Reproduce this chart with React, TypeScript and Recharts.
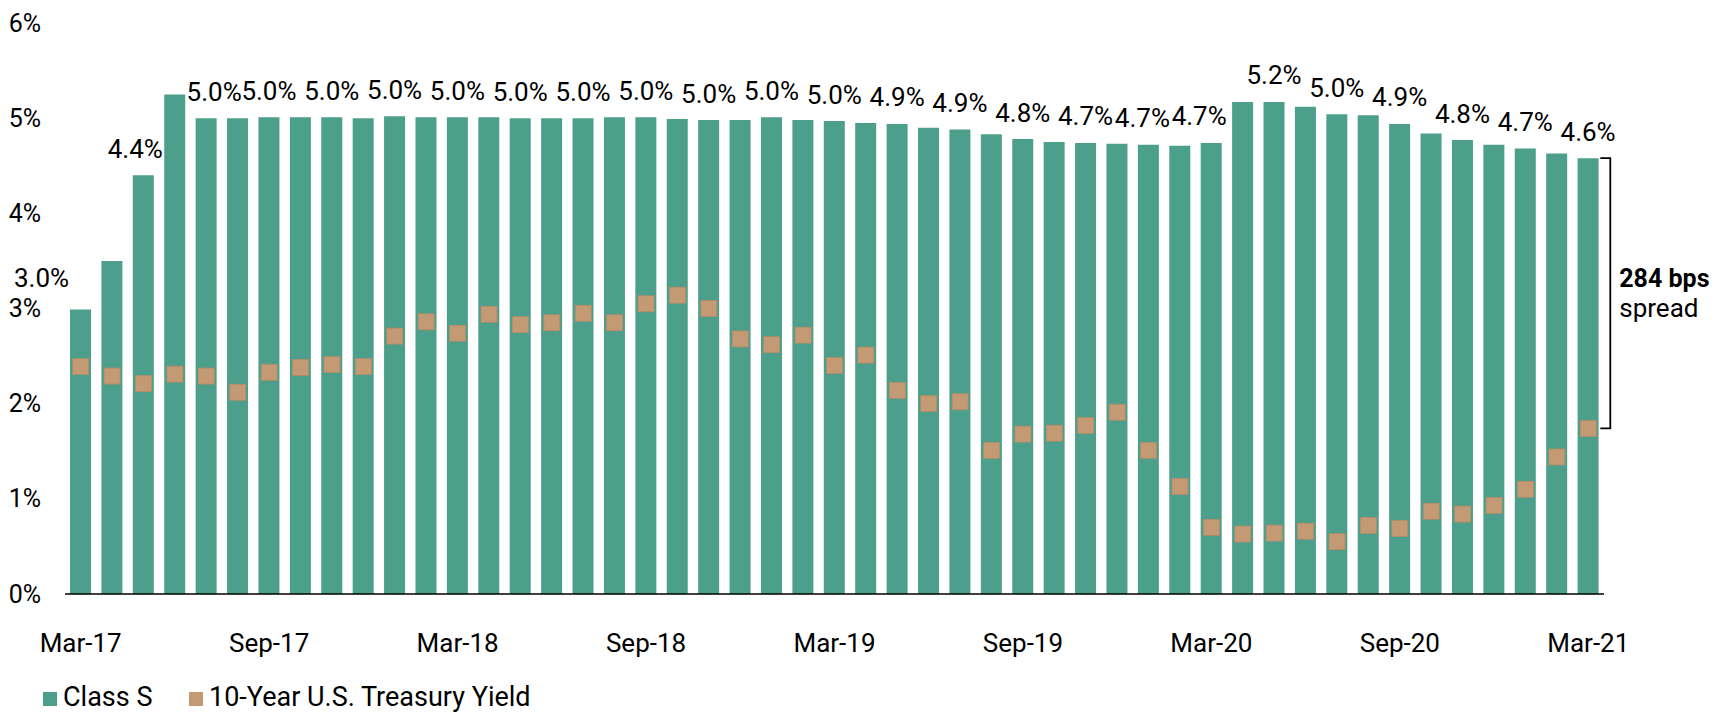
import React from 'react';
import { ComposedChart, Bar, Line, XAxis, YAxis, LabelList, Legend, ReferenceLine } from 'recharts';

// Month-end observations, Mar-17 .. Mar-21
const months = [
  'Mar-17', 'Apr-17', 'May-17', 'Jun-17', 'Jul-17', 'Aug-17', 'Sep-17', 'Oct-17', 'Nov-17', 'Dec-17',
  'Jan-18', 'Feb-18', 'Mar-18', 'Apr-18', 'May-18', 'Jun-18', 'Jul-18', 'Aug-18', 'Sep-18', 'Oct-18',
  'Nov-18', 'Dec-18', 'Jan-19', 'Feb-19', 'Mar-19', 'Apr-19', 'May-19', 'Jun-19', 'Jul-19', 'Aug-19',
  'Sep-19', 'Oct-19', 'Nov-19', 'Dec-19', 'Jan-20', 'Feb-20', 'Mar-20', 'Apr-20', 'May-20', 'Jun-20',
  'Jul-20', 'Aug-20', 'Sep-20', 'Oct-20', 'Nov-20', 'Dec-20', 'Jan-21', 'Feb-21', 'Mar-21',
];

// Class S distribution rate (%)
const classS = [
  2.99, 3.5, 4.4, 5.25, 5.0, 5.0, 5.01, 5.01, 5.01, 5.0,
  5.02, 5.01, 5.01, 5.01, 5.0, 5.0, 5.0, 5.01, 5.01, 4.99,
  4.98, 4.98, 5.01, 4.98, 4.97, 4.95, 4.94, 4.9, 4.88, 4.83,
  4.78, 4.75, 4.74, 4.73, 4.72, 4.71, 4.74, 5.17, 5.17, 5.12,
  5.04, 5.03, 4.94, 4.84, 4.77, 4.72, 4.68, 4.63, 4.58,
];

// 10-Year U.S. Treasury yield (%)
const treasury = [
  2.39, 2.29, 2.21, 2.31, 2.29, 2.12, 2.33, 2.38, 2.41, 2.39,
  2.71, 2.86, 2.74, 2.94, 2.83, 2.85, 2.95, 2.85, 3.05, 3.14,
  3.0, 2.68, 2.62, 2.72, 2.4, 2.51, 2.14, 2.0, 2.02, 1.51,
  1.68, 1.69, 1.77, 1.91, 1.51, 1.13, 0.7, 0.63, 0.64, 0.66,
  0.55, 0.72, 0.69, 0.87, 0.84, 0.93, 1.1, 1.44, 1.74,
];

const yTicks = [0, 1, 2, 3, 4, 5, 6];

const TEAL = '#4C9F8A';
const TAN = '#C49A74';
const FONT = 'Roboto, "Open Sans", sans-serif';

const W = 1711;
const H = 704;
const PLOT_BOTTOM = 586;

// a few labels were nudged in the original so they don't collide
const labelShift: Record<number, number> = { 0: -39, 2: -8, 4: 8, 34: -6, 36: -12 };
const labelLift: Record<number, number> = { 0: 5 };

const data = months.map((m, i) => ({ month: m, classS: classS[i], treasury: treasury[i] }));

const renderXTick = (props: any) => {
  const { x, payload } = props;
  return (
    <text x={x} y={PLOT_BOTTOM + 58} textAnchor="middle" fontSize={26} fontFamily={FONT} fill="#000">
      {payload.value}
    </text>
  );
};

const renderYTick = (props: any) => {
  const { y, payload } = props;
  return (
    <text x={33} y={y} textAnchor="end" dominantBaseline="central" fontSize={25} fontFamily={FONT} fill="#000">
      {`${payload.value}%`}
    </text>
  );
};

const renderLabel = (props: any) => {
  const { x, y, width, value, index } = props;
  if (index % 2 !== 0) return null;
  const dx = labelShift[index] ?? 0;
  const lift = labelLift[index] ?? 0;
  return (
    <text
      x={Number(x) + Number(width) / 2 + dx}
      y={Number(y) - 17.5 - lift}
      textAnchor="middle"
      fontSize={26}
      fontFamily={FONT}
      fill="#000"
    >
      {`${Number(value).toFixed(1)}%`}
    </text>
  );
};

const renderSquare = (props: any) => {
  const { cx, cy, index } = props;
  if (cx == null || cy == null) return <g key={`sq-${index}`} />;
  return (
    <rect key={`sq-${index}`} x={cx - 8} y={cy - 8} width={16} height={16} fill={TAN} stroke="#B48C68" strokeWidth={0.8} />
  );
};

const last = months.length - 1;
const spreadBps = Math.round((classS[last] - treasury[last]) * 100);

const renderBracket = (props: any) => {
  const { x1, y1, y2 } = props;
  const left = x1 + 12;
  const right = x1 + 22;
  const mid = (y1 + y2) / 2;
  return (
    <g>
      <path d={`M${left},${y1}H${right}V${y2}H${left}`} fill="none" stroke="#000" strokeWidth={1.8} />
      <text x={x1 + 31} y={mid - 6} fontSize={25} fontWeight="bold" fontFamily={FONT} fill="#000">
        {`${spreadBps} bps`}
      </text>
      <text x={x1 + 31} y={mid + 24} fontSize={26} fontFamily={FONT} fill="#000">
        spread
      </text>
    </g>
  );
};

const legendItems = [
  { name: 'Class S', color: TEAL, left: 0 },
  { name: '10-Year U.S. Treasury Yield', color: TAN, left: 146 },
];

const renderLegend = () => (
  <div style={{ position: 'relative', height: 30, fontFamily: FONT, fontSize: 27, lineHeight: '27px', color: '#000' }}>
    {legendItems.map((item) => (
      <span key={item.name} style={{ position: 'absolute', left: item.left, top: 0, whiteSpace: 'nowrap' }}>
        <span style={{ display: 'inline-block', width: 14, height: 14, background: item.color, marginRight: 6 }} />
        {item.name}
      </span>
    ))}
  </div>
);

export default function App() {
  return (
    <div style={{ width: W, height: H, fontFamily: FONT }}>
      <ComposedChart width={W} height={H} data={data} margin={{ top: 15, right: 115, bottom: 88, left: 0 }}>
        <XAxis
          dataKey="month"
          interval={5}
          tickLine={false}
          axisLine={{ stroke: '#000', strokeWidth: 1.5 }}
          tick={renderXTick}
          height={30}
        />
        <YAxis domain={[0, 6]} ticks={yTicks} axisLine={false} tickLine={false} width={57} tick={renderYTick} />
        <Bar dataKey="classS" name="Class S" fill={TEAL} barSize={21} isAnimationActive={false}>
          <LabelList dataKey="classS" content={renderLabel} />
        </Bar>
        <Line
          dataKey="treasury"
          name="10-Year U.S. Treasury Yield"
          stroke="none"
          dot={renderSquare}
          activeDot={false}
          legendType="square"
          isAnimationActive={false}
        />
        <ReferenceLine
          segment={[
            { x: months[last], y: classS[last] },
            { x: months[last], y: treasury[last] },
          ]}
          shape={renderBracket}
        />
        <Legend
          verticalAlign="middle"
          align="center"
          layout="horizontal"
          content={renderLegend}
          wrapperStyle={{ top: 676, left: 35, width: 600, height: 30 }}
        />
      </ComposedChart>
    </div>
  );
}
